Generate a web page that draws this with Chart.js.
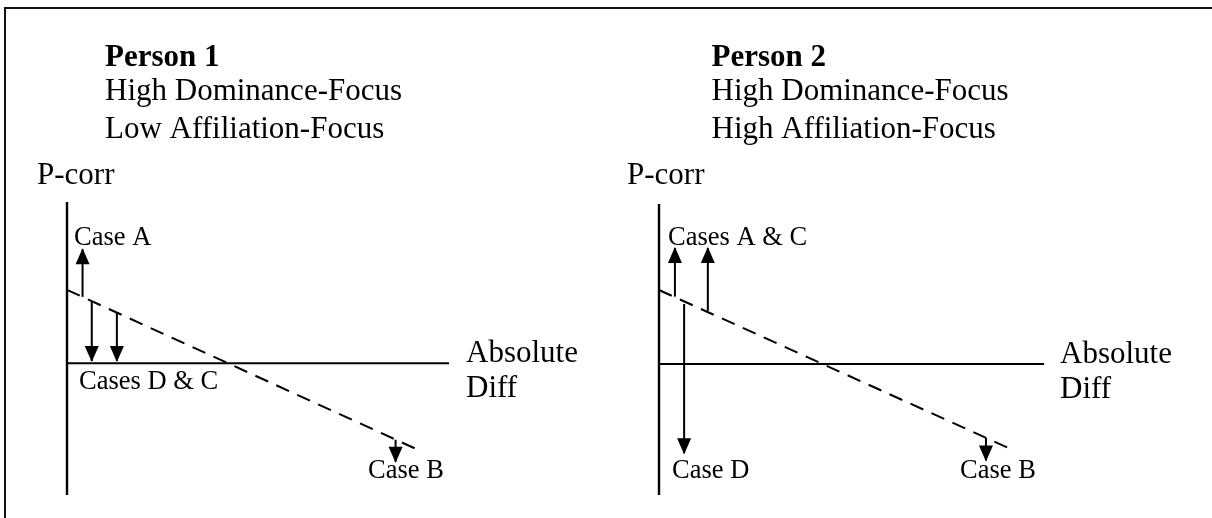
<!DOCTYPE html>
<html>
<head>
<meta charset="utf-8">
<script src="https://cdn.jsdelivr.net/npm/chart.js@4.4.0/dist/chart.umd.min.js"></script>
<style>
  body{margin:0;background:#fff;}
  #wrap{position:relative;width:1212px;height:518px;overflow:hidden;background:#fff;}
  #frame{position:absolute;left:4px;top:7px;width:1300px;height:600px;border-top:2px solid #111;border-left:2px solid #111;}
  canvas{position:absolute;top:0;}
</style>
</head>
<body>
<div id="wrap">
  <div id="frame"></div>
  <canvas id="plot_canvas1" width="606" height="518" style="left:0px"></canvas>
  <canvas id="plot_canvas2" width="606" height="518" style="left:606px"></canvas>
</div>
<script>
// dashed trend, read at x=0 and x=10
const trendX=[0,10]
const person1Trend=[2.0,-2.4]
const person2Trend=[2.02,-2.35]

// axis extents (absolute diff / p-corr)
const person1AxisX=[0,10.8]
const person1AxisY=[-3.6,4.4]
const person2AxisX=[0,10.88]
const person2AxisY=[-3.58,4.37]

// arrows: start on trend line, end at the arrow tip
const person1Cases=["Case A","Case D","Case C","Case B"]
const person1CaseX=[0.44,0.70,1.41,9.29]
const person1From=[1.81,1.69,1.38,-2.09]
const person1To=[3.11,0.06,0.06,-2.69]

const person2Cases=["Case A","Case D","Case C","Case B"]
const person2CaseX=[0.45,0.71,1.38,9.24]
const person2From=[1.84,1.64,1.45,-2.02]
const person2To=[3.17,-2.44,3.17,-2.64]

const person1Heading=["Person 1","High Dominance-Focus","Low Affiliation-Focus"]
const person2Heading=["Person 2","High Dominance-Focus","High Affiliation-Focus"]

const ink="#000"
const serif="'Liberation Serif','Times New Roman',serif"

const arrowHeads={
  id:"arrowHeads",
  afterDatasetsDraw(chart){
    const ctx=chart.ctx
    chart.data.datasets.forEach((ds,i)=>{
      if(!ds.arrow) return
      let pts=chart.getDatasetMeta(i).data
      let a=pts[0], b=pts[pts.length-1]
      let ang=Math.atan2(b.y-a.y,b.x-a.x)
      ctx.save()
      ctx.translate(b.x,b.y)
      ctx.rotate(ang)
      ctx.beginPath()
      ctx.moveTo(1,0)
      ctx.lineTo(-15,-7)
      ctx.lineTo(-15,7)
      ctx.closePath()
      ctx.fillStyle=ds.borderColor
      ctx.fill()
      ctx.restore()
    })
  }
}

const paperText={
  id:"paperText",
  afterDraw(chart,args,opts){
    const ctx=chart.ctx
    ctx.save()
    ctx.fillStyle=ink
    ctx.textBaseline="alphabetic"
    ctx.textAlign="left"
    ;(opts.items||[]).forEach(t=>{
      ctx.font=t.font
      ctx.fillText(t.text,t.x,t.y)
    })
    ctx.restore()
  }
}

const buildDatasets=(trend,cases,caseX,from,to,axisX,axisY)=>{
  let ds=[]
  ds.push({label:"P-corr",data:[{x:0,y:axisY[0]},{x:0,y:axisY[1]}],borderWidth:2.4})
  ds.push({label:"Absolute Diff",data:[{x:axisX[0],y:0},{x:axisX[1],y:0}],borderWidth:2})
  ds.push({label:"trend",data:trendX.map((x,i)=>({x:x,y:trend[i]})),borderWidth:2,borderDash:[14,9]})
  for(let i=0;i<cases.length;i++){
    ds.push({label:cases[i],data:[{x:caseX[i],y:from[i]},{x:caseX[i],y:to[i]}],borderWidth:2,arrow:true})
  }
  return ds.map(d=>Object.assign({borderColor:ink,pointRadius:0,showLine:true,fill:false,clip:false},d))
}

const draw_panel=(id,datasets,axisX,axisY,pad,items)=>{
  let canvas=document.getElementById(id)
  return new Chart(canvas,{
    type:"scatter",
    data:{datasets:datasets},
    options:{
      responsive:false,
      animation:false,
      events:[],
      layout:{padding:pad},
      scales:{
        x:{type:"linear",display:false,min:axisX[0],max:axisX[1]},
        y:{type:"linear",display:false,min:axisY[0],max:axisY[1]}
      },
      plugins:{
        legend:{display:false},
        tooltip:{enabled:false},
        paperText:{items:items}
      }
    },
    plugins:[arrowHeads,paperText]
  })
}

const head=(lines,x)=>[
  {text:lines[0],x:x,y:66,font:"bold 31px "+serif},
  {text:lines[1],x:x,y:100,font:"31px "+serif},
  {text:lines[2],x:x,y:138,font:"31px "+serif}
]

draw_panel("plot_canvas1",
  buildDatasets(person1Trend,person1Cases,person1CaseX,person1From,person1To,person1AxisX,person1AxisY),
  person1AxisX,person1AxisY,
  {left:67,right:157,top:202,bottom:23},
  head(person1Heading,105).concat([
    {text:"P-corr",x:37,y:184,font:"31px "+serif},
    {text:"Case A",x:74,y:245,font:"26.5px "+serif},
    {text:"Cases D & C",x:79,y:389,font:"26.5px "+serif},
    {text:"Absolute",x:466,y:362,font:"31px "+serif},
    {text:"Diff",x:466,y:397,font:"31px "+serif},
    {text:"Case B",x:368,y:478,font:"26.5px "+serif}
  ]))

draw_panel("plot_canvas2",
  buildDatasets(person2Trend,person2Cases,person2CaseX,person2From,person2To,person2AxisX,person2AxisY),
  person2AxisX,person2AxisY,
  {left:53,right:168,top:204,bottom:23},
  head(person2Heading,105.5).concat([
    {text:"P-corr",x:21,y:184,font:"31px "+serif},
    {text:"Cases A & C",x:62,y:245,font:"26.5px "+serif},
    {text:"Case D",x:66,y:478,font:"26.5px "+serif},
    {text:"Absolute",x:454,y:363,font:"31px "+serif},
    {text:"Diff",x:454,y:398,font:"31px "+serif},
    {text:"Case B",x:354,y:478,font:"26.5px "+serif}
  ]))
</script>
</body>
</html>
